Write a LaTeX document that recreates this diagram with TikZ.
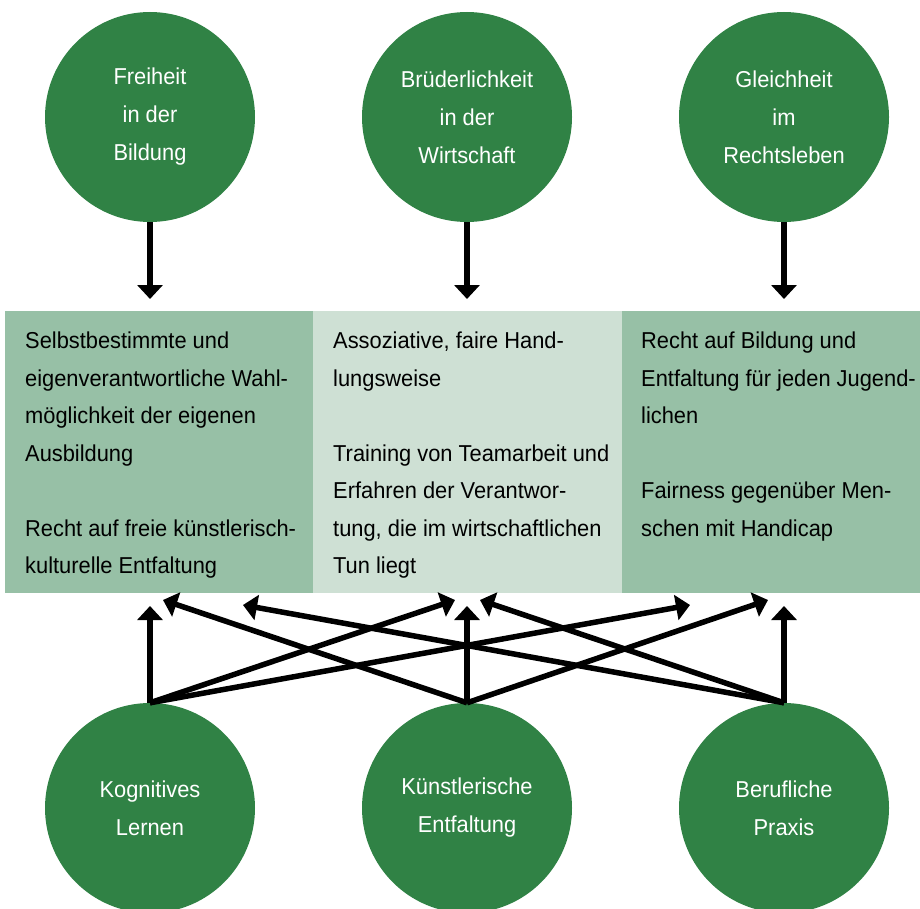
\documentclass[tikz,border=0pt]{standalone}
\usepackage{fontspec}
\setmainfont{Liberation Sans}[FakeStretch=0.95]
\usetikzlibrary{arrows.meta}
\definecolor{kreisgruen}{RGB}{48,130,69}
\definecolor{feldgruen}{RGB}{151,192,166}
\definecolor{feldhell}{RGB}{206,224,212}
\begin{document}
\begin{tikzpicture}[x=1pt,y=-1pt]
    \tikzstyle{kreis}=[circle, fill=kreisgruen, text=white, minimum size=210pt, inner sep=0pt, align=center, font=\fontsize{23}{38}\selectfont]
    \tikzstyle{feld}=[rectangle, anchor=north west, minimum height=282pt, inner sep=0pt]
    \tikzstyle{feldtext}=[anchor=north west, inner sep=0pt, align=left, font=\fontsize{23}{37.5}\selectfont]
    \tikzstyle{pfeil}=[line width=5.5pt, -{Triangle[length=14pt,width=25pt]}]

    \useasboundingbox (0,0) rectangle (920,909);

    % drei Ideale
    \node[kreis] (freiheit) at (150,117) {Freiheit\\in der\\Bildung};
    \node[kreis] (bruder) at (467,117) {Brüderlichkeit\\in der\\Wirtschaft};
    \node[kreis] (gleich) at (784,117) {Gleichheit\\im\\Rechtsleben};

    % Felder
    \node[feld, fill=feldgruen, minimum width=308pt] (links) at (5,311) {};
    \node[feld, fill=feldhell, minimum width=309pt] (mitte) at (313,311) {};
    \node[feld, fill=feldgruen, minimum width=298pt] (rechts) at (622,311) {};

    \node[feldtext] (tlinks) at (25,332) {Selbstbestimmte und\\eigenverantwortliche Wahl-\\möglichkeit der eigenen\\Ausbildung\\[37.5pt]Recht auf freie künstlerisch-\\kulturelle Entfaltung};
    \node[feldtext] (tmitte) at (333,332) {Assoziative, faire Hand-\\lungsweise\\[37.5pt]Training von Teamarbeit und\\Erfahren der Verantwor-\\tung, die im wirtschaftlichen\\Tun liegt};
    \node[feldtext] (trechts) at (641,332) {Recht auf Bildung und\\Entfaltung für jeden Jugend-\\lichen\\[37.5pt]Fairness gegenüber Men-\\schen mit Handicap};

    % Lernwege
    \node[kreis] (kog) at (150,808) {Kognitives\\Lernen};
    \node[kreis] (kuenst) at (467,808) {Künstlerische\\Entfaltung};
    \node[kreis] (beruf) at (784,808) {Berufliche\\Praxis};

    \coordinate (f1) at (150,299);
    \coordinate (f2) at (467,299);
    \coordinate (f3) at (784,299);

    \coordinate (a1) at (150,606);
    \coordinate (a2) at (455,600);
    \coordinate (a3) at (690,605);
    \coordinate (b1) at (163,600);
    \coordinate (b2) at (467,606);
    \coordinate (b3) at (768,600);
    \coordinate (c1) at (243,605);
    \coordinate (c2) at (480,600);
    \coordinate (c3) at (784,606);

    \draw[pfeil] (freiheit.south) -- (f1);
    \draw[pfeil] (bruder.south) -- (f2);
    \draw[pfeil] (gleich.south) -- (f3);

    \draw[pfeil] (kog.north) -- (a1);
    \draw[pfeil] (kog.north) -- (a2);
    \draw[pfeil] (kog.north) -- (a3);
    \draw[pfeil] (kuenst.north) -- (b1);
    \draw[pfeil] (kuenst.north) -- (b2);
    \draw[pfeil] (kuenst.north) -- (b3);
    \draw[pfeil] (beruf.north) -- (c1);
    \draw[pfeil] (beruf.north) -- (c2);
    \draw[pfeil] (beruf.north) -- (c3);
\end{tikzpicture}
\end{document}
